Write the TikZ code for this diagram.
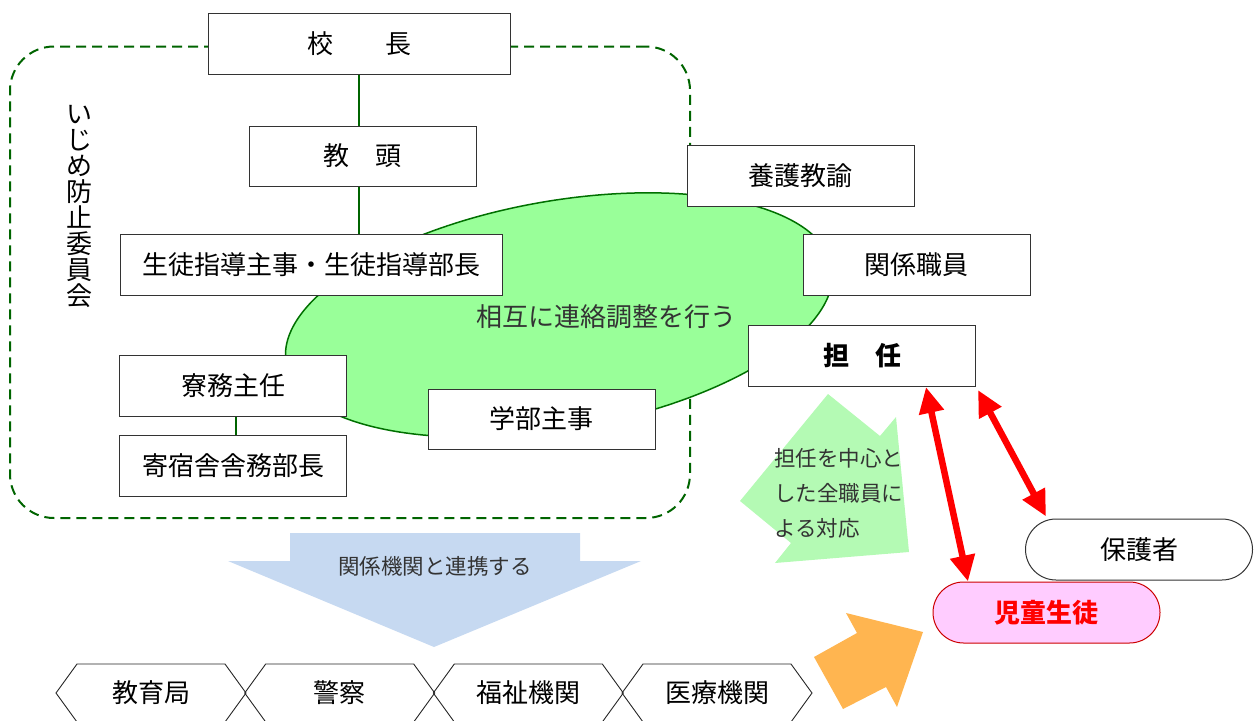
\documentclass[tikz,border=0pt]{standalone}
\usepackage{fontspec}
\setmainfont{Noto Sans CJK JP}
\usetikzlibrary{shapes.geometric,arrows.meta}
\definecolor{dgreen}{RGB}{0,100,0}
\definecolor{egreen}{RGB}{0,112,0}
\definecolor{lgreen}{RGB}{153,255,153}
\definecolor{agreen}{RGB}{180,250,180}
\definecolor{lblue}{RGB}{198,217,241}
\definecolor{aorange}{RGB}{255,181,80}
\definecolor{lpink}{RGB}{255,204,255}
\definecolor{dred}{RGB}{204,0,0}
\begin{document}
\begin{tikzpicture}[x=1pt,y=-1pt,
  box/.style={draw=black!80, line width=1pt, fill=white, inner sep=0pt,
    minimum width=227pt, minimum height=61pt, font=\fontsize{26}{26}\selectfont},
  pill/.style={box, rounded corners=30.5pt},
  conn/.style={draw=dgreen, line width=1.5pt},
  thintext/.style={text=black!80, inner sep=0pt},
  hexline/.style={draw=black!85, line width=0.9pt},
  hexlabel/.style={inner sep=0pt, font=\fontsize{26}{26}\selectfont},
  redarr/.style={draw=red, line width=6.5pt,
    {Triangle[length=26pt,width=24pt]}-{Triangle[length=26pt,width=24pt]}}
]
\useasboundingbox (0,0) rectangle (1255,720);

% committee frame
\node[draw=dgreen, line width=2pt, dash pattern=on 10pt off 6pt, rounded corners=44pt,
  minimum width=680pt, minimum height=471.5pt, inner sep=0pt] (frame) at (350,282.25) {};

% ellipse
\node[ellipse, draw=egreen, fill=lgreen, line width=1.5pt, minimum width=554pt,
  minimum height=228pt, rotate=10, inner sep=0pt] (renraku) at (559,315) {};
\node[thintext, font=\fontsize{26}{26}\selectfont] (renrakutxt) at (606,317) {相互に連絡調整を行う};

% vertical title
\node[inner sep=0pt, align=center, font=\fontsize{26}{26}\selectfont] (iinkai) at (79,206)
  {い\\じ\\め\\防\\止\\委\\員\\会};

% boxes
\node[box, minimum width=302pt] (kocho) at (359,43.5) {校\hspace{52pt}長};
\node[box, minimum height=60pt] (kyoto) at (362.5,156) {教\hspace{26pt}頭};
\node[box, minimum width=382pt] (seito) at (311,264.5) {生徒指導主事・生徒指導部長};
\node[box] (yogo) at (800.5,175.5) {養護教諭};
\node[box] (kankei) at (916.5,264.5) {関係職員};
\node[box, font=\fontsize{26}{26}\selectfont\bfseries] (tannin) at (862,356) {担\hspace{26pt}任};
\node[box] (ryomu) at (233,385.5) {寮務主任};
\node[box] (kishuku) at (233,465.5) {寄宿舎舎務部長};
\node[box, minimum height=60pt] (gakubu) at (541.5,419) {学部主事};
\node[pill] (hogosha) at (1139,549.5) {保護者};
\node[pill, draw=dred, fill=lpink, text=red, font=\fontsize{26}{26}\selectfont\bfseries] (jido) at (1046.5,612.5) {児童生徒};

% connectors
\draw[conn] (kocho.south) -- (kocho.south |- kyoto.north);
\draw[conn] (kocho.south |- kyoto.south) -- (kocho.south |- seito.north);
\draw[conn] ([xshift=3pt]ryomu.south) -- ([xshift=3pt]kishuku.north);

% green notched arrow
\fill[agreen] (828,394) -- (880,436) -- (896,417) -- (909,552) -- (775,563) -- (791,543) -- (740,501) -- cycle;
\node[thintext, font=\fontsize{21.5}{35}\selectfont, align=left, anchor=west] (taiou) at (774,493)
  {担任を中心と\\した全職員に\\よる対応};

% red arrows
\draw[redarr] ([xshift=64pt]tannin.south) -- ([xshift=-78.5pt]jido.north);
\draw[redarr] ([shift={(2pt,-3pt)}]tannin.south east) -- ([shift={(21pt,2pt)}]hogosha.north west);

% blue arrow
\fill[lblue] (290,533) -- (580,533) -- (580,561) -- (641,561) -- (434,647) -- (228,561) -- (290,561) -- cycle;
\node[thintext, font=\fontsize{21.5}{21.5}\selectfont] (renkei) at (435,566) {関係機関と連携する};

% orange arrow
\fill[aorange] (923,632) -- (897,707) -- (886,687) -- (843,709) -- (814,657) -- (857,633) -- (846,613) -- cycle;

% agencies
\node[hexlabel] (h1) at (151,693) {教育局};
\node[hexlabel] (h2) at (339.7,693) {警察};
\node[hexlabel] (h3) at (528.3,693) {福祉機関};
\node[hexlabel] (h4) at (717,693) {医療機関};
\foreach \h in {h1,h2,h3,h4}{
  \draw[hexline] (\h.center) +(-95,0) -- +(-74,-29) -- +(74,-29) -- +(95,0) -- +(74,29) -- +(-74,29) -- cycle;
}
\end{tikzpicture}
\end{document}
